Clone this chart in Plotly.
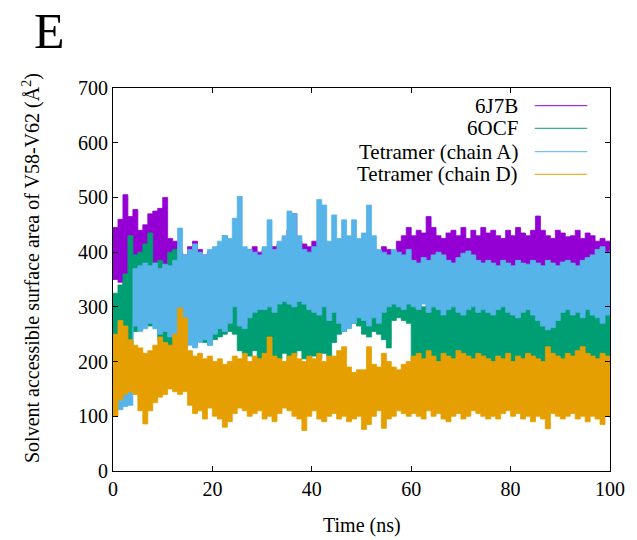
import plotly.graph_objects as go

# time axis (ns), sampled every 1 ns
time_ns = list(range(0, 101))

# Envelopes (min / max per ns), in Å^2
j7b_high = [445, 460, 505, 465, 478, 440, 450, 470, 475, 480, 500, 425, 420,
            400, 395, 410, 420, 405, 395, 400, 405, 410, 400, 405, 410,
            400, 395, 405, 410, 400, 405, 400, 410, 415, 405, 440, 470, 420,
            415, 410, 420, 415, 405, 410, 415, 410, 405, 420, 415, 410,
            420, 415, 405, 400, 410, 405, 400,
            420, 430, 445, 430, 440, 435, 465, 445, 430, 425, 435, 440,
            430, 445, 425, 440, 430, 445, 435, 440, 430, 425, 440, 430, 445, 435, 430, 440,
            466, 440, 430, 425, 440, 435, 428, 430, 440, 425, 435, 430, 420, 425, 420, 415]
j7b_low = [350, 345, 320, 315, 340, 345, 370, 375, 370, 360, 355, 330, 340,
           300, 295, 310, 280, 265, 290, 300, 305, 310, 300, 310, 300,
           310, 315, 320, 310, 315, 320, 310, 320, 315, 310, 315, 310, 320, 315, 310,
           315, 320, 310, 315, 320, 310, 315, 320, 315, 310,
           330, 325, 335, 330, 340, 335, 340,
           350, 355, 345, 355, 350, 360, 345, 350, 355, 345, 350, 355,
           350, 345, 355, 350, 345, 355, 350, 345, 350, 355, 345, 350, 345, 340, 350, 355,
           345, 350, 340, 345, 350, 355, 345, 340, 350, 345, 350, 355, 340, 335, 340, 345]

ocf_high = [325, 340, 360, 430, 395, 400, 415, 435, 380, 385, 370, 400, 405,
            350, 345, 355, 350, 360, 345, 350, 360, 380, 430, 370, 360,
            340, 335, 345, 330, 335, 340, 345, 335, 340, 350, 345, 340, 335, 345, 340,
            335, 345, 350, 340, 345, 350, 345, 355, 350, 345,
            360, 365, 355, 370, 375, 360, 365, 355, 360, 350,
            310, 305, 300, 310, 305, 300, 310, 305, 315, 310, 305, 300, 310, 305, 315, 320,
            320, 325, 330, 320, 325, 330, 335, 330, 325, 330, 335, 325, 330, 320, 325, 330,
            325, 320, 330, 335, 340, 350, 345, 340, 335]
ocf_low = [195, 200, 225, 230, 255, 260, 265, 265, 270, 240, 235, 225, 230,
           230, 225, 235, 230, 240, 235, 230, 240, 245, 250, 255, 250,
           220, 215, 210, 220, 205, 215, 200, 210, 205, 215,
           200, 210, 220, 205, 200, 210, 205, 215, 210,
           235, 250, 255, 265, 270, 265,
           250, 245, 255, 250, 240, 225, 275, 280, 275, 270,
           195, 190, 200, 185, 195, 190, 200, 195, 185, 190, 200, 195, 190, 185, 195, 190,
           190, 185, 195, 180, 190, 185, 175, 190, 160, 150, 180, 190, 185, 195, 180, 190,
           185, 195, 190, 180, 185, 190, 195, 185, 190]

tetA_high = [215, 210, 220, 230,
             370, 375, 380, 375, 380, 370, 378, 375, 385, 444, 395, 405, 415, 400, 395, 405,
             410, 420, 430, 425, 462,
             502, 410, 405, 400, 395, 410, 459, 405, 420, 430, 475, 470, 430, 405, 400,
             410, 496, 486, 420, 468, 425, 459, 430, 459, 425,
             435, 486, 430, 405, 400, 395, 405, 400, 395, 405,
             385, 380, 390, 385, 395, 400, 395, 385, 380, 390,
             398, 402, 395, 385, 380, 385, 380, 375, 385, 380,
             375, 385, 380, 378, 385, 380, 375, 385, 380, 375,
             382, 385, 380, 375, 385, 390, 395,
             405, 410, 400, 405]
tetA_low = [115, 112, 118, 120,
            265, 255, 260, 270, 260, 250, 255, 245, 250,
            235, 240, 230, 225, 235, 240, 230, 250, 260, 255, 270, 300,
            265, 260, 280, 290, 295, 295, 300, 290, 305, 310, 305, 300, 310, 305, 295,
            290, 285, 300, 275, 290, 270, 255, 260, 270, 280,
            275, 265, 280, 270, 290, 300, 305, 300, 295, 305,
            300, 295, 305, 290, 300, 295, 285, 295, 300, 290,
            285, 295, 300, 290, 295, 290, 285, 295, 300, 290,
            285, 280, 290, 295, 285, 275, 265, 258, 262, 275,
            290, 295, 285, 290, 280, 295, 285,
            280, 270, 285, 290]

tetD_high = [250, 275, 265, 240, 230, 225, 215, 220, 230, 245, 235, 230, 250, 298, 280,
             220, 210, 215, 205, 210, 200, 205, 195, 200, 210,
             205, 215, 200, 210, 205, 215, 245, 210, 205, 200,
             210, 215, 205, 200, 210, 205, 215, 200, 210, 210,
             220, 227, 190, 180, 185,
             185, 227, 195, 190, 215, 200, 190, 185, 195, 200,
             210, 215, 205, 220, 210, 200, 215, 210, 205, 220, 215, 210, 205, 215, 210, 205,
             200, 210, 205, 215, 200, 210, 205, 215, 210, 205, 200, 227, 215, 210, 205, 215,
             210, 220, 227, 215, 210, 205, 215, 210, 205]
tetD_low = [100, 130, 140, 145, 140, 110, 86, 110, 125, 135, 140, 150, 145, 140, 145,
            120, 105, 110, 95, 115, 100, 95, 80, 90, 105,
            115, 110, 100, 105, 110, 95, 100, 90, 105, 115,
            110, 100, 95, 74, 100, 110, 95, 90, 100, 105,
            95, 100, 90, 95, 100,
            76, 85, 100, 110, 78, 95, 100, 110, 105, 100,
            105, 100, 95, 110, 100, 105, 95, 90, 100, 105, 95, 100, 110, 105, 100, 95,
            100, 95, 105, 110, 100, 105, 95, 100, 90, 100, 95, 77, 105, 100, 95, 100,
            105, 95, 100, 90, 100, 95, 85, 100, 95]

series_names = ["6J7B", "6OCF", "Tetramer (chain A)", "Tetramer (chain D)"]
series_colors = ["#9400D3", "#009E73", "#56B4E9", "#E69F00"]
series_low = [j7b_low, ocf_low, tetA_low, tetD_low]
series_high = [j7b_high, ocf_high, tetA_high, tetD_high]

x_ticks = [0, 20, 40, 60, 80, 100]
y_ticks = [0, 100, 200, 300, 400, 500, 600, 700]

for lo, hi in zip(series_low, series_high):
    assert len(lo) == len(time_ns) and len(hi) == len(time_ns)

FONT = "Liberation Serif"

fig = go.Figure()
for name, col, lo, hi in zip(series_names, series_colors, series_low, series_high):
    fig.add_trace(go.Scatter(x=time_ns, y=lo, mode="lines",
                             line=dict(color=col, width=0.8, shape="hv"),
                             showlegend=False, hoverinfo="skip"))
    fig.add_trace(go.Scatter(x=time_ns, y=hi, mode="lines",
                             line=dict(color=col, width=0.8, shape="hv"),
                             fill="tonexty", fillcolor=col, name=name, showlegend=False))

# gnuplot-style key (text right-aligned, sample line on the right)
key_rows_y = [0.9538, 0.8948, 0.8337, 0.7747]
for name, col, yy in zip(series_names, series_colors, key_rows_y):
    fig.add_annotation(x=0.8187, y=yy, xref="paper", yref="paper", text=name,
                       showarrow=False, xanchor="right", yanchor="middle",
                       font=dict(family=FONT, size=21, color="black"))
    fig.add_shape(type="line", xref="paper", yref="paper", x0=0.8486, x1=0.9542,
                  y0=yy, y1=yy, line=dict(color=col, width=1))

fig.add_annotation(x=-0.165, y=0.530, xref="paper", yref="paper",
                   text="Solvent accessible surface area of V58-V62 (Å<sup>2</sup>)",
                   textangle=-90, showarrow=False, xanchor="center", yanchor="middle",
                   font=dict(family=FONT, size=20, color="black"))
fig.add_annotation(x=0.5, y=-0.141, xref="paper", yref="paper", text="Time (ns)",
                   showarrow=False, xanchor="center", yanchor="middle",
                   font=dict(family=FONT, size=20, color="black"))
fig.add_annotation(x=-0.1275, y=1.149, xref="paper", yref="paper", text="E",
                   showarrow=False, xanchor="center", yanchor="middle",
                   font=dict(family=FONT, size=50, color="black"))

axis_common = dict(showline=True, linecolor="black", linewidth=1, mirror="allticks",
                   ticks="inside", ticklen=5, tickcolor="black", showgrid=False,
                   zeroline=False, tickfont=dict(family=FONT, size=20, color="black"))
fig.update_xaxes(range=[0, 100], tickvals=x_ticks, **axis_common)
fig.update_yaxes(range=[0, 700], tickvals=y_ticks, **axis_common)

fig.update_layout(width=637, height=540, margin=dict(l=113, r=22, t=88, b=69),
                  plot_bgcolor="white", paper_bgcolor="white", showlegend=False)

fig.write_html("out.html")
